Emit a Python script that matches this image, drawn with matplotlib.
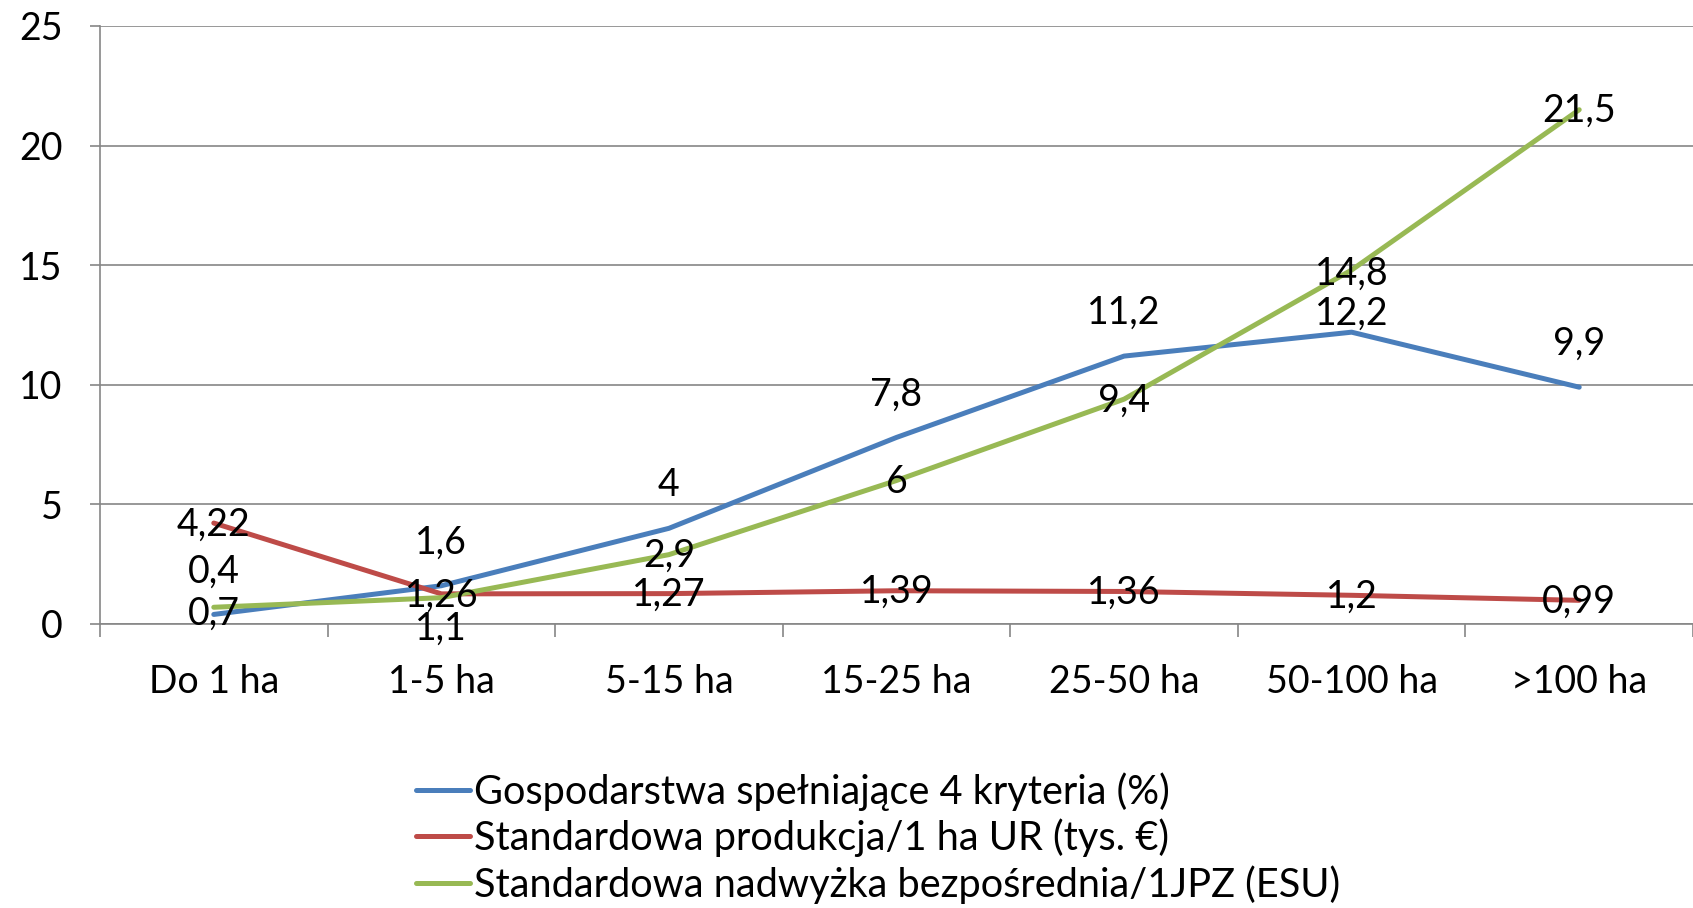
import matplotlib
matplotlib.use("Agg")
import matplotlib.pyplot as plt
import numpy as np

plt.rcParams["font.family"] = ["Lato", "DejaVu Sans"]

categories = ["Do 1 ha", "1-5 ha", "5-15 ha", "15-25 ha", "25-50 ha", "50-100 ha", ">100 ha"]
gosp = [0.4, 1.6, 4, 7.8, 11.2, 12.2, 9.9]
prod = [4.22, 1.26, 1.27, 1.39, 1.36, 1.2, 0.99]
nadw = [0.7, 1.1, 2.9, 6, 9.4, 14.8, 21.5]
names = ["Gospodarstwa spełniające 4 kryteria (%)",
         "Standardowa produkcja/1 ha UR (tys. €)",
         "Standardowa nadwyżka bezpośrednia/1JPZ (ESU)"]
colors = ["#4A7EBB", "#BE4B48", "#98B954"]

FS = 27
grid_c = "#868686"

fig = plt.figure(figsize=(16.93, 9.08), dpi=100)
ax = fig.add_axes([100 / 1693, 1 - 624 / 908, 1 - 100 / 1693, (624 - 26) / 908])

x = np.arange(len(categories))
for vals, name, c in zip([gosp, prod, nadw], names, colors):
    ax.plot(x, vals, color=c, lw=3.6, label=name, solid_capstyle="round", zorder=3)


def fmt(v):
    return f"{v:g}".replace(".", ",")


# blue labels sit above the points (12,2 pushed down by 14,8), the others on them
blue_off = [31, 31, 31, 31, 31, 13, 31]
for xi, v, dy in zip(x, gosp, blue_off):
    ax.annotate(fmt(v), (xi, v), xytext=(0, dy), textcoords="offset points",
                ha="center", va="center", fontsize=FS, zorder=4)
for xi, v in zip(x, prod):
    ax.annotate(fmt(v), (xi, v), xytext=(0, -1), textcoords="offset points",
                ha="center", va="center", fontsize=FS, zorder=4)
green_off = [-5, -22, -1, -1, -1, -3, -1]
for xi, v, dy in zip(x, nadw, green_off):
    ax.annotate(fmt(v), (xi, v), xytext=(0, dy), textcoords="offset points",
                ha="center", va="center", fontsize=FS, zorder=4)

ax.set_xlim(-0.5, len(categories) - 0.5)
ax.set_ylim(0, 25)
ax.set_yticks(range(0, 26, 5))
ax.set_xticks(x)
ax.set_xticklabels(categories)
ax.set_xticks(np.arange(-0.5, len(categories), 1), minor=True)
ax.tick_params(axis="x", which="major", length=0, pad=29, labelsize=FS)
ax.tick_params(axis="x", which="minor", length=9, width=1.2, color=grid_c)
ax.tick_params(axis="y", length=7, width=1.2, color=grid_c, pad=20, labelsize=FS)
ax.grid(axis="y", color=grid_c, lw=1.2)
ax.set_axisbelow(True)
for s in ["top", "right"]:
    ax.spines[s].set_visible(False)
for s in ["left", "bottom"]:
    ax.spines[s].set_color(grid_c)
    ax.spines[s].set_linewidth(1.2)

fig.legend(loc="upper left", bbox_to_anchor=(416 / 1693, 1 - 772 / 908),
           frameon=False, fontsize=28.6, handlelength=1.35, handletextpad=0.1,
           labelspacing=0.2, borderaxespad=0, borderpad=0)

fig.savefig("out.png", dpi=100)
